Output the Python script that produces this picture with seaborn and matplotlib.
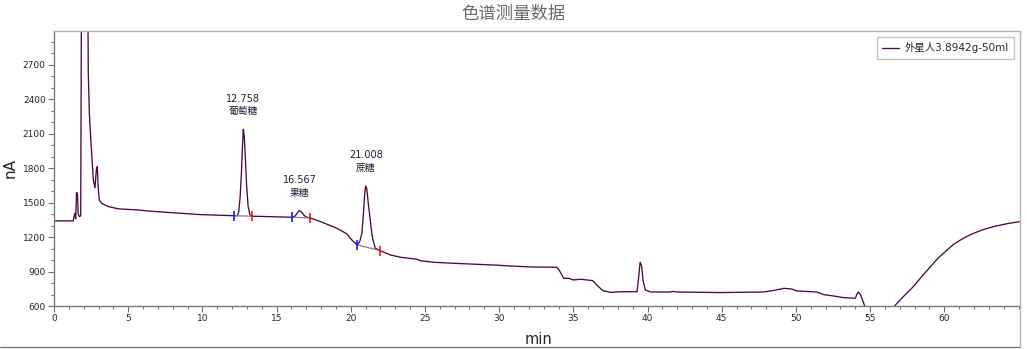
import numpy as np
import pandas as pd
import matplotlib
matplotlib.use("Agg")
import matplotlib.pyplot as plt
from matplotlib.lines import Line2D
import seaborn as sns

# Chromatogram trace (retention time in min, detector signal in nA)
time_min = [
    0.0, 1.30, 1.35, 1.42, 1.46, 1.52, 1.58, 1.63, 1.71, 1.80, 1.85, 2.05, 2.28,
    2.31, 2.38, 2.47, 2.56, 2.65, 2.76, 2.85, 2.92, 2.97, 3.05, 3.20, 3.66, 4.34,
    5.57, 6.47, 8.00, 9.85, 11.20, 12.16, 12.35, 12.45, 12.55, 12.63, 12.70,
    12.758, 12.82, 12.90, 12.98, 13.08, 13.20, 13.35, 14.50, 16.03, 16.20, 16.35,
    16.50, 16.567, 16.70, 16.85, 17.00, 17.26, 17.94, 19.06, 19.74, 19.96, 20.18,
    20.45, 20.60, 20.75, 20.85, 20.95, 21.008, 21.08, 21.20, 21.31, 21.45, 21.65,
    21.98, 22.66, 23.33, 24.46, 24.68, 25.58, 26.93, 28.60, 29.96, 30.60, 32.20,
    33.90, 34.10, 34.35, 34.70, 35.00, 35.50, 36.30, 36.60, 37.00, 37.50, 38.20,
    39.29, 39.40, 39.50, 39.60, 39.70, 39.85, 40.20, 41.50, 41.70, 42.00, 44.90,
    46.00, 47.83, 48.50, 49.20, 49.70, 50.07, 51.40, 51.87, 52.50, 53.20, 54.00,
    54.10, 54.20, 54.35, 54.65, 55.00, 56.00, 56.64, 57.30, 57.95, 58.50, 59.07,
    59.60, 60.20, 60.60, 61.10, 61.50, 61.99, 62.60, 63.34, 64.20, 65.14,
]
signal_na = [
    1341, 1341, 1380, 1411, 1360, 1588, 1580, 1400, 1379, 1385, 3300, 5000, 3300,
    2632, 2283, 2074, 1890, 1699, 1629, 1780, 1815, 1650, 1524, 1495, 1466, 1446,
    1437, 1426, 1412, 1396, 1390, 1386, 1386, 1420, 1560, 1760, 1990,
    2140, 2080, 1880, 1650, 1470, 1395, 1382, 1378, 1373, 1378, 1400,
    1428, 1430, 1415, 1390, 1375, 1367, 1336, 1277, 1228, 1190, 1161,
    1132, 1160, 1234, 1400, 1590, 1646, 1620, 1470, 1350, 1200, 1103,
    1082, 1045, 1025, 1007, 995, 981, 972, 963, 955, 949, 940,
    937, 900, 841, 841, 827, 833, 821, 780, 733, 719, 724,
    724, 850, 981, 950, 820, 740, 722, 722, 727, 722, 717,
    719, 722, 735, 754, 748, 731, 722, 699, 688, 673, 667,
    700, 722, 700, 594, 450, 420, 600, 690, 774, 860, 943,
    1020, 1088, 1135, 1176, 1205, 1234, 1265, 1292, 1316, 1336,
]

# Identified peaks
peak_rt = [12.758, 16.567, 21.008]
peak_height = [2140, 1430, 1646]
peak_names = ["葡萄糖", "果糖", "蔗糖"]

# Integration baselines: start/end time and signal for each peak
base_start_t = [12.16, 16.03, 20.45]
base_start_v = [1386, 1373, 1132]
base_end_t = [13.33, 17.26, 21.98]
base_end_v = [1382, 1367, 1082]

sample_label = "外星人3.8942g-50ml"

sns.set_theme(style="white")
plt.rcParams["font.family"] = ["DejaVu Sans", "Noto Sans CJK SC"]

fig = plt.figure(figsize=(10.27, 3.49), dpi=100)
ax = fig.add_axes([54 / 1027, 43 / 349, 966 / 1027, 275 / 349])

trace = pd.DataFrame({"min": time_min, "nA": signal_na})
sns.lineplot(data=trace, x="min", y="nA", ax=ax, color="#4a0a42",
             linewidth=0.95, label=sample_label, sort=False)

# integration baselines with start (blue) and end (red) ticks
for t0, v0, t1, v1 in zip(base_start_t, base_start_v, base_end_t, base_end_v):
    ax.plot([t0, t1], [v0, v1], color="#808080", linewidth=0.9, zorder=3)
    ax.plot([t0], [v0], marker="|", color="#0000ff", markersize=7,
            markeredgewidth=1.1, zorder=4)
    ax.plot([t1], [v1], marker="|", color="#ff0000", markersize=7,
            markeredgewidth=1.1, zorder=4)

for rt, h, name in zip(peak_rt, peak_height, peak_names):
    ax.annotate(f"{rt:.3f}\n{name}", xy=(rt, h), xytext=(0, 13),
                textcoords="offset pixels", ha="center", va="bottom",
                fontsize=7, color="#1c1c3a", linespacing=1.3)

ax.set_xlim(0, 65.1)
ax.set_ylim(600, 2995)
ax.set_xticks(np.arange(0, 65, 5))
ax.set_xticks(np.arange(0, 66, 1), minor=True)
ax.set_yticks(np.arange(600, 2800, 300))
ax.set_yticks(np.arange(600, 3000, 100), minor=True)
ax.tick_params(axis="both", which="major", direction="out", length=4,
               width=0.8, color="#707070", labelsize=6.5, pad=2,
               bottom=True, left=True)
ax.tick_params(axis="both", which="minor", direction="out", length=2.5,
               width=0.8, color="#707070", bottom=True, left=True)

for side in ["left", "bottom"]:
    ax.spines[side].set_color("#7a7a7a")
    ax.spines[side].set_linewidth(1.0)
for side in ["top", "right"]:
    ax.spines[side].set_color("#b4b4b4")
    ax.spines[side].set_linewidth(1.0)

ax.set_xlabel("min", fontsize=10.5, va="center")
ax.xaxis.set_label_coords(484 / 966, -34 / 275)
ax.set_ylabel("nA", fontsize=11, va="center")
ax.yaxis.set_label_coords(-44 / 966, 0.5)

leg = ax.legend(loc="upper right", fontsize=7.5, frameon=True, fancybox=False,
                handlelength=1.6, handletextpad=0.5, borderpad=0.5,
                borderaxespad=0.6)
leg.get_frame().set_edgecolor("#b4b4b4")
leg.get_frame().set_linewidth(1.0)

fig.suptitle("色谱测量数据", x=0.5, y=0.985, fontsize=12.5, color="#6a6a6a")

# outer panel frame along the bottom and right
fig.add_artist(Line2D([0, 1020 / 1027], [2 / 349, 2 / 349], color="#7a7a7a",
                      linewidth=1.0, transform=fig.transFigure))
fig.add_artist(Line2D([1020 / 1027, 1020 / 1027], [2 / 349, 43 / 349],
                      color="#b4b4b4", linewidth=1.0, transform=fig.transFigure))

fig.savefig("out.png", dpi=100)
